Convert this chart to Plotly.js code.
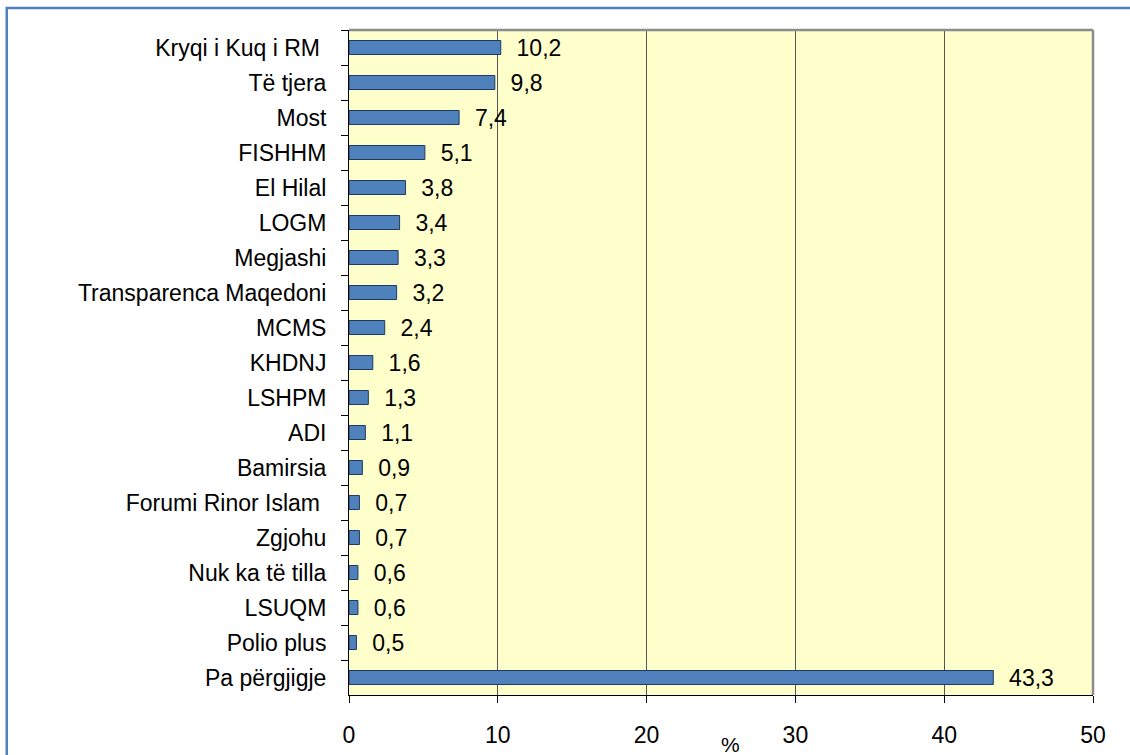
<!DOCTYPE html>
<html>
<head>
<meta charset="utf-8">
<script src="https://cdn.plot.ly/plotly-3.0.1.min.js"></script>
<style>
  body { margin: 0; background: #fff; }
  #chart { width: 1130px; height: 755px; }
</style>
</head>
<body>
<div id="chart"></div>
<script>
const organizations = [
  'Kryqi i Kuq i RM ', 'Të tjera', 'Most', 'FISHHM', 'El Hilal', 'LOGM',
  'Megjashi', 'Transparenca Maqedoni', 'MCMS', 'KHDNJ', 'LSHPM', 'ADI',
  'Bamirsia', 'Forumi Rinor Islam ', 'Zgjohu', 'Nuk ka të tilla', 'LSUQM',
  'Polio plus', 'Pa përgjigje'
];
const percentages = [
  10.2, 9.8, 7.4, 5.1, 3.8, 3.4,
  3.3, 3.2, 2.4, 1.6, 1.3, 1.1,
  0.9, 0.7, 0.7, 0.6, 0.6,
  0.5, 43.3
];
const xTicks = [0, 10, 20, 30, 40, 50];

const initChart = () => {

  const labels = percentages.map(v => '\u00a0\u00a0' + v.toFixed(1).replace('.', ','));

  const bars = {
    type: 'bar',
    orientation: 'h',
    x: percentages,
    y: organizations,
    text: labels,
    textposition: 'outside',
    constraintext: 'none',
    cliponaxis: false,
    textfont: { family: 'Liberation Sans, Arial, sans-serif', size: 23, color: '#000' },
    marker: {
      color: '#4f81bd',
      line: { color: '#1f3a60', width: 1 }
    },
    hoverinfo: 'x+y'
  };

  const layout = {
    width: 1130,
    height: 755,
    margin: { l: 349, r: 37, t: 30, b: 60 },
    paper_bgcolor: '#ffffff',
    plot_bgcolor: '#ffffcc',
    showlegend: false,
    bargap: 0.6,
    font: { family: 'Liberation Sans, Arial, sans-serif', size: 23, color: '#000' },
    xaxis: {
      range: [0, 50],
      tickvals: xTicks,
      ticktext: xTicks.map(String),
      ticks: 'outside',
      ticklen: 7,
      tickcolor: '#000',
      ticklabelstandoff: 12,
      showgrid: true,
      gridcolor: '#555555',
      gridwidth: 1,
      zeroline: false,
      showline: true,
      linecolor: '#000',
      linewidth: 1,
      tickfont: { size: 23 },
      fixedrange: true
    },
    yaxis: {
      type: 'category',
      autorange: 'reversed',
      ticks: 'outside',
      tickson: 'boundaries',
      ticklen: 7,
      tickcolor: '#000',
      ticklabelstandoff: 17,
      showgrid: false,
      showline: true,
      linecolor: '#000',
      linewidth: 1,
      tickfont: { size: 23 },
      fixedrange: true
    },
    annotations: [{
      text: '%',
      xref: 'paper', yref: 'paper',
      x: 0.513, y: -0.075,
      xanchor: 'center', yanchor: 'middle',
      showarrow: false,
      font: { size: 21, color: '#000' }
    }],
    shapes: [
      // grey frame on top and right of the plot area
      { type: 'line', xref: 'paper', yref: 'paper', x0: 0, x1: 1, y0: 1, y1: 1,
        line: { color: '#8c8c8c', width: 2.5 }, layer: 'above' },
      { type: 'line', xref: 'paper', yref: 'paper', x0: 1, x1: 1, y0: 0, y1: 1,
        line: { color: '#8c8c8c', width: 2.5 }, layer: 'above' },
      // blue outer border of the chart
      { type: 'rect', xref: 'paper', yref: 'paper',
        x0: -0.46, x1: 1.08, y0: 1.033, y1: -0.1,
        line: { color: '#4f81bd', width: 2.5 }, fillcolor: 'rgba(0,0,0,0)', layer: 'below' }
    ]
  };

  const config = { responsive: false, displayModeBar: false };

  Plotly.newPlot('chart', [bars], layout, config);
};

initChart();
</script>
</body>
</html>
